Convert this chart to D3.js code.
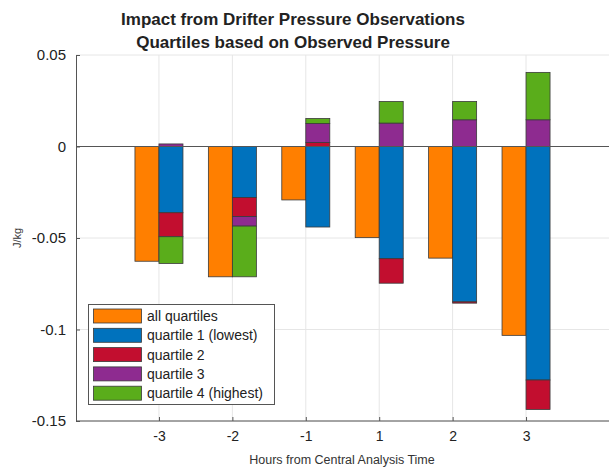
<!DOCTYPE html>
<html>
<head>
<meta charset="utf-8">
<script src="https://cdn.jsdelivr.net/npm/d3@7"></script>
<style>
  body { margin: 0; background: #fff; }
  text { font-family: "Liberation Sans", Arial, Helvetica, sans-serif; }
</style>
</head>
<body>
<svg id="chart" width="609" height="467"></svg>
<script>
// data
var hours = ['-3', '-2', '-1', '1', '2', '3'];
var allQuartiles = [-0.0627, -0.0712, -0.0292, -0.0498, -0.0610, -0.1032];
var quartile1 = [-0.0362, -0.0279, -0.0440, -0.0613, -0.0849, -0.1276];
var quartile2 = [-0.0131, -0.0104, 0.0022, -0.0134, -0.0007, -0.0161];
var quartile3 = [0.0014, -0.0052, 0.0104, 0.0128, 0.0146, 0.0146];
var quartile4 = [-0.0146, -0.0277, 0.0027, 0.0118, 0.0100, 0.0259];
var yTicks = [0.05, 0, -0.05, -0.1, -0.15];
var legendNames = ['all quartiles', 'quartile 1 (lowest)', 'quartile 2', 'quartile 3', 'quartile 4 (highest)'];
var colors = ['#ff7f00', '#0072bd', '#c20e2f', '#8e2b90', '#5aad1b'];

var svg = d3.select('#chart');
var plotLeft = 76, plotRight = 609, plotTop = 55, plotBottom = 421;

var x = d3.scaleLinear().domain([-1.13, 6.13]).range([plotLeft, plotRight]);
var y = d3.scaleLinear().domain([-0.15, 0.05]).range([plotBottom, plotTop]);
var barW = x(0.327) - x(0);

// grid
var grid = svg.append('g');
hours.forEach(function(h, i) {
    grid.append('line')
        .attr('x1', x(i)).attr('x2', x(i))
        .attr('y1', plotTop).attr('y2', plotBottom)
        .attr('stroke', '#e6e6e6').attr('stroke-width', 1);
});
yTicks.forEach(function(t) {
    grid.append('line')
        .attr('x1', plotLeft).attr('x2', plotRight)
        .attr('y1', y(t)).attr('y2', y(t))
        .attr('stroke', '#e6e6e6').attr('stroke-width', 1);
});

// bars
var bars = svg.append('g');
hours.forEach(function(h, i) {
    bars.append('rect')
        .attr('x', x(i) - barW)
        .attr('y', y(Math.max(0, allQuartiles[i])))
        .attr('width', barW)
        .attr('height', Math.abs(y(allQuartiles[i]) - y(0)))
        .attr('fill', colors[0])
        .attr('stroke', '#3a3a3a').attr('stroke-width', 0.8);

    // stacked: positives go up, negatives go down
    var pos = 0, neg = 0;
    [quartile1, quartile2, quartile3, quartile4].forEach(function(q, k) {
        var v = q[i], y0, y1;
        if (v >= 0) { y0 = pos; y1 = pos + v; pos = y1; }
        else { y0 = neg; y1 = neg + v; neg = y1; }
        bars.append('rect')
            .attr('x', x(i))
            .attr('y', y(Math.max(y0, y1)))
            .attr('width', barW)
            .attr('height', Math.abs(y(y1) - y(y0)))
            .attr('fill', colors[k + 1])
            .attr('stroke', '#3a3a3a').attr('stroke-width', 0.8);
    });
});

// zero line
svg.append('line')
    .attr('x1', plotLeft).attr('x2', plotRight)
    .attr('y1', y(0)).attr('y2', y(0))
    .attr('stroke', '#555').attr('stroke-width', 1);

// axes
var yAxis = svg.append('g')
    .attr('transform', 'translate(' + plotLeft + ',0)')
    .call(d3.axisLeft(y).tickValues(yTicks).tickSizeInner(-4).tickSizeOuter(0).tickPadding(10)
        .tickFormat(function(d) { return d === 0 ? '0' : String(d); }));
yAxis.select('.domain').attr('stroke', '#555');
yAxis.selectAll('.tick line').attr('stroke', '#555');
yAxis.selectAll('text').attr('font-size', 15).attr('fill', '#222');

var xAxis = svg.append('g')
    .attr('transform', 'translate(0,' + plotBottom + ')')
    .call(d3.axisBottom(x).tickValues(d3.range(hours.length)).tickSizeInner(-4).tickSizeOuter(0).tickPadding(10)
        .tickFormat(function(d) { return hours[d]; }));
xAxis.select('.domain').attr('stroke', '#555').attr('d', 'M' + plotLeft + ',0H' + plotRight);
xAxis.selectAll('.tick line').attr('stroke', '#555');
xAxis.selectAll('text').attr('font-size', 14).attr('fill', '#222');

// labels
svg.append('text')
    .attr('x', 342).attr('y', 464)
    .attr('text-anchor', 'middle').attr('font-size', 12.5).attr('fill', '#333')
    .text('Hours from Central Analysis Time');
svg.append('text')
    .attr('transform', 'translate(21,' + 238 + ') rotate(-90)')
    .attr('text-anchor', 'middle').attr('font-size', 11).attr('fill', '#333')
    .text('J/kg');
svg.append('text')
    .attr('x', 293).attr('y', 25)
    .attr('text-anchor', 'middle').attr('font-size', 17).attr('font-weight', 'bold').attr('fill', '#222')
    .text('Impact from Drifter Pressure Observations');
svg.append('text')
    .attr('x', 293).attr('y', 48)
    .attr('text-anchor', 'middle').attr('font-size', 17).attr('font-weight', 'bold').attr('fill', '#222')
    .text('Quartiles based on Observed Pressure');

// legend
var legend = svg.append('g');
legend.append('rect')
    .attr('x', 88.5).attr('y', 304.5)
    .attr('width', 186).attr('height', 100)
    .attr('fill', '#fff').attr('stroke', '#555').attr('stroke-width', 1);
legendNames.forEach(function(name, k) {
    var yy = 309 + k * 19.3;
    legend.append('rect')
        .attr('x', 93.5).attr('y', yy)
        .attr('width', 48).attr('height', 14)
        .attr('fill', colors[k])
        .attr('stroke', '#3a3a3a').attr('stroke-width', 0.8);
    legend.append('text')
        .attr('x', 147).attr('y', yy + 12)
        .attr('font-size', 14).attr('fill', '#222')
        .text(name);
});
</script>
</body>
</html>
